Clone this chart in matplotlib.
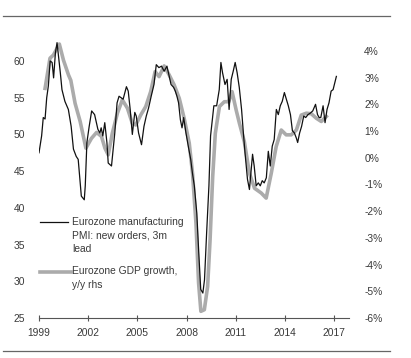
import matplotlib
matplotlib.use("Agg")
import matplotlib.pyplot as plt
from matplotlib.lines import Line2D

plt.rcParams['font.family'] = ['Liberation Sans', 'DejaVu Sans']

# PMI new orders (3m lead), left axis
pmi_year = [1999.00, 1999.16, 1999.26, 1999.37, 1999.47, 1999.57, 1999.68, 1999.80, 1999.89,
            2000.00, 2000.10, 2000.20, 2000.30, 2000.40, 2000.58, 2000.79, 2000.96, 2001.10,
            2001.27, 2001.39, 2001.58, 2001.76, 2001.82, 2001.92, 2002.06, 2002.21, 2002.39,
            2002.59, 2002.71, 2002.79, 2002.89, 2003.01, 2003.14, 2003.22, 2003.42, 2003.62,
            2003.76, 2003.88, 2004.13, 2004.33, 2004.44, 2004.56, 2004.69, 2004.84, 2004.93,
            2005.07, 2005.25, 2005.40, 2005.54, 2005.68, 2005.84, 2006.01, 2006.15, 2006.31,
            2006.47, 2006.63, 2006.80, 2006.94, 2007.05, 2007.21, 2007.31, 2007.41, 2007.51,
            2007.62, 2007.72, 2007.82, 2007.96, 2008.10, 2008.25, 2008.35, 2008.47, 2008.62,
            2008.74, 2008.86, 2008.99, 2009.09, 2009.22, 2009.36, 2009.46, 2009.56, 2009.66,
            2009.83, 2009.99, 2010.09, 2010.19, 2010.34, 2010.47, 2010.59, 2010.72, 2010.84,
            2010.96, 2011.08, 2011.21, 2011.35, 2011.46, 2011.56, 2011.71, 2011.83, 2011.94,
            2012.02, 2012.12, 2012.24, 2012.37, 2012.49, 2012.61, 2012.73, 2012.86, 2012.98,
            2013.10, 2013.22, 2013.34, 2013.47, 2013.59, 2013.71, 2013.83, 2013.96, 2014.08,
            2014.20, 2014.33, 2014.45, 2014.57, 2014.69, 2014.77, 2014.89, 2015.01, 2015.14,
            2015.26, 2015.40, 2015.54, 2015.69, 2015.86, 2015.98, 2016.08, 2016.18, 2016.32,
            2016.44, 2016.56, 2016.68, 2016.81, 2016.93, 2017.03, 2017.13]
pmi_val = [47.5, 49.8, 52.3, 52.1, 55.0, 56.6, 60.0, 59.8, 57.7,
           61.1, 62.5, 60.5, 58.4, 56.1, 54.5, 53.4, 51.1, 48.0,
           47.0, 46.6, 41.6, 41.1, 43.0, 48.9, 51.1, 53.2, 52.7,
           50.7, 50.2, 50.9, 49.8, 51.6, 48.9, 46.1, 45.7, 50.2,
           54.3, 55.2, 54.8, 56.5, 55.9, 53.4, 50.0, 53.0, 52.5,
           50.2, 48.6, 51.1, 52.5, 53.6, 55.2, 56.8, 59.5, 59.1,
           59.3, 58.6, 59.3, 57.9, 56.8, 56.4, 55.9, 55.2, 54.3,
           52.0, 50.9, 52.3, 50.2, 48.4, 46.6, 44.8, 43.0, 39.3,
           33.9, 28.9, 28.4, 30.2, 36.6, 43.0, 49.8, 51.8, 53.9,
           53.9, 56.1, 59.8, 58.4, 56.8, 57.5, 53.4, 57.5, 58.6,
           59.8, 58.4, 56.4, 53.4, 50.2, 47.5, 43.9, 42.5, 45.2,
           47.3, 45.7, 43.0, 43.4, 43.0, 43.7, 43.4, 44.1, 47.7,
           45.7, 48.4, 49.3, 53.4, 52.7, 53.9, 54.5, 55.7, 54.8,
           53.9, 52.7, 50.5, 50.2, 49.5, 48.9, 50.2, 51.1, 52.5,
           52.3, 52.7, 52.9, 53.2, 54.1, 52.7, 52.3, 52.3, 53.9,
           51.6, 53.4, 54.3, 55.9, 56.1, 57.0, 57.9]

# Eurozone GDP growth y/y, right axis (%)
gdp_year = [1999.37, 1999.67, 1999.88, 2000.24, 2000.49, 2000.80, 2000.94, 2001.20,
            2001.51, 2001.86, 2002.20, 2002.51, 2002.81, 2003.02, 2003.22, 2003.47,
            2003.78, 2004.08, 2004.39, 2004.69, 2004.90, 2005.20, 2005.51, 2005.81,
            2006.08, 2006.32, 2006.63, 2006.94, 2007.24, 2007.55, 2007.85, 2008.16,
            2008.36, 2008.57, 2008.73, 2008.87, 2009.08, 2009.28, 2009.43, 2009.59,
            2009.75, 2010.00, 2010.30, 2010.57, 2010.77, 2011.02, 2011.22, 2011.52,
            2011.83, 2012.14, 2012.55, 2012.85, 2013.16, 2013.46, 2013.77, 2014.07,
            2014.38, 2014.69, 2014.99, 2015.30, 2015.60, 2015.91, 2016.21, 2016.52]
gdp_val = [2.60, 3.73, 3.85, 4.26, 3.66, 3.10, 2.90, 2.04,
           1.36, 0.36, 0.73, 0.95, 0.80, 0.36, 0.11, 0.92,
           1.67, 2.17, 1.86, 1.29, 1.23, 1.60, 1.92, 2.48,
           3.23, 3.04, 3.44, 3.10, 2.73, 2.23, 1.48, 0.55,
           -0.58, -2.45, -4.69, -5.75, -5.69, -4.82, -3.07, -0.70,
           0.92, 1.92, 2.10, 2.10, 2.48, 1.79, 1.29, 0.60,
           -0.58, -1.14, -1.32, -1.51, -0.58, 0.42, 1.04, 0.86,
           0.86, 1.04, 1.60, 1.67, 1.65, 1.48, 1.36, 1.55]

x_ticks = [1999, 2002, 2005, 2008, 2011, 2014, 2017]
left_ticks = [25, 30, 35, 40, 45, 50, 55, 60]
right_ticks = [-6, -5, -4, -3, -2, -1, 0, 1, 2, 3, 4]

pmi_label = "Eurozone manufacturing\nPMI: new orders, 3m\nlead"
gdp_label = "Eurozone GDP growth,\ny/y rhs"

W, H = 411, 358
fig = plt.figure(figsize=(W / 100, H / 100), dpi=100)
ax = fig.add_axes([39 / W, 1 - 318 / H, (349 - 39) / W, (318 - 40) / H])
ax2 = ax.twinx()

text_col = '#3a3a3a'
grey = '#ababab'
fs = 7.4

ax2.plot(gdp_year, gdp_val, color=grey, lw=2.6, solid_joinstyle='round', zorder=2)
ax.plot(pmi_year, pmi_val, color='#111111', lw=0.9, zorder=3)
ax.set_zorder(ax2.get_zorder() + 1)
ax.patch.set_visible(False)

ax.set_xlim(1999, 2017.9)
ax.set_ylim(25, 25 + (318 - 40) / 7.343)
ax2.set_ylim(-6, -6 + (318 - 40) / 26.7)

ax.set_xticks(x_ticks)
ax.set_xticklabels([str(t) for t in x_ticks])
ax.set_yticks(left_ticks)
ax.set_yticklabels([str(t) for t in left_ticks])
ax2.set_yticks(right_ticks)
ax2.set_yticklabels([f"{t}%" for t in right_ticks])

for a in (ax, ax2):
    for s in ('top', 'left', 'right'):
        a.spines[s].set_visible(False)
ax2.spines['bottom'].set_visible(False)
ax.spines['bottom'].set_color('#555555')
ax.spines['bottom'].set_linewidth(0.8)

ax.tick_params(axis='x', direction='inout', length=4, width=0.8, color='#555555',
               labelsize=fs, labelcolor=text_col, pad=5)
ax.tick_params(axis='y', length=0, labelsize=fs, labelcolor=text_col, pad=10)
ax2.tick_params(axis='y', length=0, labelsize=fs, labelcolor=text_col, pad=11)


def fy(y):
    return 1 - y / H


# legend drawn at fixed positions (handle aligned with first text line)
fig.add_artist(Line2D([40 / W, 68 / W], [fy(222), fy(222)], color='#111111', lw=0.9))
fig.text(72 / W, fy(216.5), pmi_label, fontsize=fs, color=text_col, va='top',
         ha='left', linespacing=1.45)
fig.add_artist(Line2D([40 / W, 71 / W], [fy(272), fy(272)], color=grey, lw=2.6))
fig.text(72 / W, fy(266.5), gdp_label, fontsize=fs, color=text_col, va='top',
         ha='left', linespacing=1.45)

# top and bottom rules
fig.add_artist(Line2D([3 / W, 390 / W], [fy(15.7), fy(15.7)], color='#666666', lw=0.9))
fig.add_artist(Line2D([3 / W, 390 / W], [fy(351), fy(351)], color='#666666', lw=0.9))

fig.savefig('out.png', dpi=100)
